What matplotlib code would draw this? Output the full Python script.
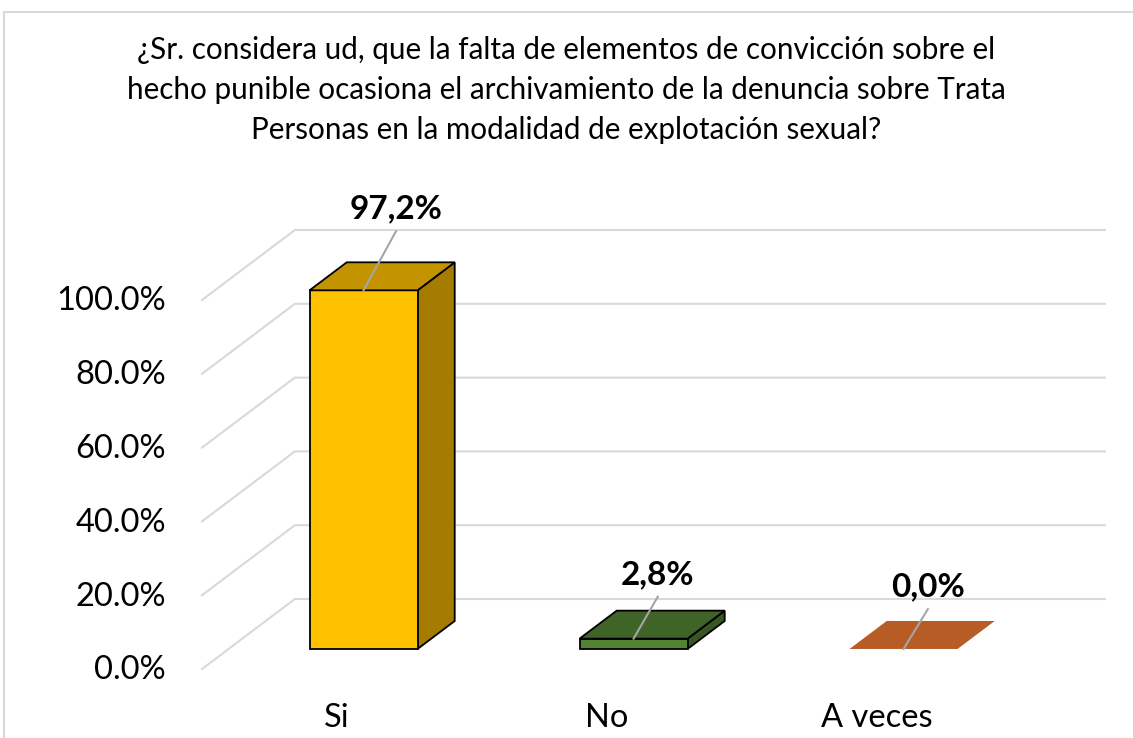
import numpy as np
import matplotlib.pyplot as plt
from matplotlib.patches import Polygon

plt.rcParams['font.family'] = ['Lato', 'DejaVu Sans']

# data
categories = ['Si', 'No', 'A veces']
values = [97.2, 2.8, 0.0]
value_labels = ['97,2%', '2,8%', '0,0%']
ticks = [0, 20, 40, 60, 80, 100]
tick_labels = ['0.0%', '20.0%', '40.0%', '60.0%', '80.0%', '100.0%']
title = ('¿Sr. considera ud, que la falta de elementos de convicción sobre el\n'
         'hecho punible ocasiona el archivamiento de la denuncia sobre Trata\n'
         'Personas en la modalidad de explotación sexual?')

front_col = ['#FFC000', '#548235', '#C55A11']
top_col = ['#C49400', '#3F6427', '#B85C25']
side_col = ['#A57B00', '#375623', '#8F4610']

# pseudo 3d geometry (data units)
DX, DY = 0.344, 18.97      # full floor depth offset
Z0, Z1 = 0.286, 0.686      # bar depth span
HW = 0.2                   # half bar width
lab_dx = [0.12, 0.09, 0.09]
lab_dy = [16.0, 11.4, 10.8]


def proj(x, y, z):
    return (x + z * DX, y + z * DY)


W, H = 1133, 738
fig = plt.figure(figsize=(W / 100, H / 100), dpi=100)
ax = fig.add_axes([0, 0, 1, 1])
# pixel -> data: x = (px - 337) / 270, y = (669 - py) / 3.69
ax.set_xlim(-337 / 270, (W - 337) / 270)
ax.set_ylim((669 - H) / 3.69, 669 / 3.69)
ax.axis('off')

# chart border
bx0, by0 = (4 - 337) / 270, (669 - 12) / 3.69
ax.plot([bx0, bx0, 5], [-50, by0, by0], color='#D9D9D9', lw=1.5, clip_on=False)

# gridlines: side wall diagonal + back wall
for t in ticks:
    p0 = proj(-0.5, t, 0)
    p1 = proj(-0.5, t, 1)
    p2 = proj(len(categories) - 0.5, t, 1)
    ax.plot([p0[0], p1[0], p2[0]], [p0[1], p1[1], p2[1]], color='#D9D9D9', lw=1.5, zorder=1)

for i, v in enumerate(values):
    xl, xr = i - HW, i + HW
    ec = 'black' if v > 0 else 'none'
    front = [proj(xl, 0, Z0), proj(xr, 0, Z0), proj(xr, v, Z0), proj(xl, v, Z0)]
    side = [proj(xr, 0, Z0), proj(xr, 0, Z1), proj(xr, v, Z1), proj(xr, v, Z0)]
    top = [proj(xl, v, Z0), proj(xr, v, Z0), proj(xr, v, Z1), proj(xl, v, Z1)]
    if v > 0:
        ax.add_patch(Polygon(side, closed=True, fc=side_col[i], ec=ec, lw=1.3, zorder=3))
        ax.add_patch(Polygon(front, closed=True, fc=front_col[i], ec=ec, lw=1.3, zorder=3))
    ax.add_patch(Polygon(top, closed=True, fc=top_col[i], ec=ec, lw=1.3, zorder=3))

    # leader line and label
    sx, sy = proj(i, v, Z0)
    ex, ey = sx + lab_dx[i], sy + lab_dy[i]
    ax.plot([sx, ex], [sy, ey], color='#A6A6A6', lw=1.5, zorder=4)
    ax.text(ex, ey + 6, value_labels[i], ha='center', va='center',
            fontsize=24, fontweight='bold', color='#000000', zorder=5)

    # category label
    ax.text(i, -13.4, categories[i], ha='center', va='center', fontsize=23.5, color='#000000')

for t, lab in zip(ticks, tick_labels):
    ax.text(-0.633, t - 0.4, lab, ha='right', va='center', fontsize=23.5, color='#000000')

fig.text(566 / W, 1 - 90 / H, title, ha='center', va='center', fontsize=21.3,
         linespacing=1.5, color='#000000')

fig.savefig('out.png', dpi=100)
